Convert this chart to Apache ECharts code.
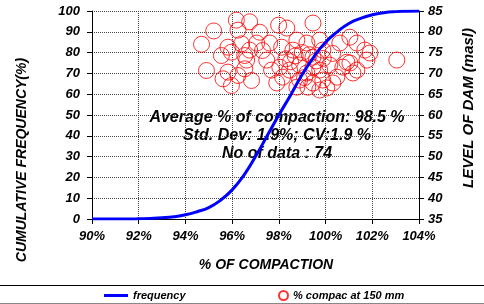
<!DOCTYPE html>
<html>
<head>
<meta charset="utf-8">
<script src="https://cdn.jsdelivr.net/npm/echarts@6/dist/echarts.min.js"></script>
<style>
	html, body { margin: 0; padding: 0; background: #fff; }
	#chart { width: 484px; height: 304px; }
</style>
</head>
<body>
<div id="chart"></div>
<script>
// cumulative frequency curve (every 0.5 %)
var freqX = [90, 90.5, 91, 91.5, 92, 92.5, 93, 93.5, 94, 94.5, 95, 95.5, 96, 96.5, 97, 97.5, 98, 98.5, 99, 99.5, 100, 100.5, 101, 101.5, 102, 102.5, 103, 103.5, 104];
var freqY = [0, 0, 0, 0, 0.1, 0.3, 0.6, 1.1, 2, 3.5, 5.5, 9, 14, 21, 30, 40, 50, 59.5, 69.5, 78, 85, 90, 94, 96.5, 98.2, 99.2, 99.7, 99.9, 100];

// % compaction vs level of dam (masl)
var compac = [94.69, 95.21, 94.90, 95.54, 95.61, 95.82, 95.97, 95.97, 95.82, 96.18, 96.25, 96.75, 96.40, 96.54, 96.25, 96.54, 96.83, 96.75,
	97.18, 97.99, 98.34, 99.46, 97.05, 97.61, 98.12, 98.60, 98.77, 99.20, 99.75, 99.88, 99.46, 100.61, 101.04, 101.34, 101.68, 101.90, 103.05,
	96.62, 97.48, 97.69, 98.04, 98.16, 97.91, 98.46, 98.89, 98.89, 99.20, 99.46, 99.46, 99.75, 99.88, 100.05, 100.18, 100.48, 100.74, 101.04,
	101.17, 101.34, 100.91, 98.77, 99.24, 99.75, 100.31, 101.77,
	98.3, 98.7, 99.0, 99.3, 99.6, 98.5, 99.1, 99.9, 97.3, 100.3];
var level = [77.0, 80.2, 70.7, 74.3, 68.7, 76.3, 75.1, 67.1, 70.3, 82.8, 80.4, 82.4, 77.1, 74.3, 69.5, 71.1, 68.3, 75.6,
	79.9, 81.6, 80.9, 82.1, 77.3, 77.3, 76.3, 75.6, 78.0, 77.3, 78.0, 75.6, 73.9, 77.3, 78.7, 77.3, 75.6, 74.9, 73.2,
	73.2, 73.2, 70.8, 71.5, 69.1, 67.7, 70.8, 72.0, 68.4, 70.1, 71.5, 67.7, 70.8, 68.4, 66.5, 72.0, 69.1, 71.5, 72.5,
	70.1, 70.8, 72.7, 66.7, 66.7, 66.0, 67.7, 73.2,
	73.5, 74.2, 75.0, 74.5, 73.0, 72.8, 69.0, 73.6, 75.5, 74.8];

var notes = ['Average % of compaction: 98.5 %', 'Std. Dev: 1.9%; CV:1.9 %', 'No of data : 74'];

var freqData = [];
for (var i = 0; i < freqX.length; i++) {
	freqData.push([freqX[i], freqY[i]]);
}
var scatterData = [];
for (var j = 0; j < compac.length; j++) {
	scatterData.push([compac[j], level[j]]);
}

var fam = 'Liberation Sans, Arial, sans-serif';
function f(size, extra) {
	var o = {
		fontFamily : fam,
		fontWeight : 'bold',
		fontStyle : 'italic',
		fill : '#000',
		color : '#000',
		fontSize : size
	};
	for (var e in extra || {}) o[e] = extra[e];
	return o;
}
var tickLabel = { margin : 12, fontSize : 13, fontFamily : fam, fontWeight : 'bold', fontStyle : 'italic', color : '#000' };

var chart = echarts.init(document.getElementById('chart'));
var option = {
	animation : false,
	backgroundColor : '#fff',
	grid : {
		left : 92,
		right : 65,
		top : 11,
		bottom : 85
	},
	legend : [ {
		left : 104,
		top : 290,
		padding : 0,
		itemWidth : 24,
		itemHeight : 3,
		icon : 'rect',
		data : [ 'frequency' ],
		textStyle : f(11)
	}, {
		left : 278,
		top : 290,
		padding : 0,
		itemWidth : 9,
		itemHeight : 9,
		icon : 'circle',
		data : [ '% compac at 150 mm' ],
		textStyle : f(11)
	} ],
	xAxis : {
		type : 'value',
		min : 90,
		max : 104,
		interval : 2,
		axisLine : { lineStyle : { color : '#000', width : 1 } },
		axisTick : { show : true, length : 5, lineStyle : { color : '#000' } },
		axisLabel : { formatter : '{value}%', margin : 11, fontSize : 13, fontFamily : fam, fontWeight : 'bold', fontStyle : 'italic', color : '#000' },
		splitLine : { show : true, lineStyle : { color : '#444', type : [ 1, 1 ] } }
	},
	yAxis : [ {
		type : 'value',
		min : 0,
		max : 100,
		interval : 10,
		axisLine : { show : true, lineStyle : { color : '#000' } },
		axisTick : { show : true, length : 5, lineStyle : { color : '#000' } },
		axisLabel : tickLabel,
		splitLine : { show : true, lineStyle : { color : '#444', type : [ 1, 1 ] } }
	}, {
		type : 'value',
		min : 35,
		max : 85,
		interval : 5,
		position : 'right',
		axisLine : { show : true, lineStyle : { color : '#000' } },
		axisTick : { show : true, length : 5, lineStyle : { color : '#000' } },
		axisLabel : { margin : 9, fontSize : 13, fontFamily : fam, fontWeight : 'bold', fontStyle : 'italic', color : '#000' },
		splitLine : { show : false }
	} ],
	graphic : [ {
		type : 'text',
		rotation : Math.PI / 2,
		x : 22,
		y : 160,
		style : f(14, { text : 'CUMULATIVE FREQUENCY(%)', align : 'center', verticalAlign : 'middle' })
	}, {
		type : 'text',
		rotation : Math.PI / 2,
		x : 469,
		y : 108,
		style : f(15, { text : 'LEVEL OF DAM (masl)', align : 'center', verticalAlign : 'middle' })
	}, {
		type : 'text',
		x : 266,
		y : 265,
		style : f(14, { text : '% OF COMPACTION', align : 'center', verticalAlign : 'middle' })
	}, {
		type : 'text',
		x : 277,
		y : 118,
		style : f(16, { text : notes[0], align : 'center', verticalAlign : 'middle' })
	}, {
		type : 'text',
		x : 277,
		y : 136,
		style : f(16, { text : notes[1], align : 'center', verticalAlign : 'middle' })
	}, {
		type : 'text',
		x : 277,
		y : 154,
		style : f(16, { text : notes[2], align : 'center', verticalAlign : 'middle' })
	}, {
		type : 'line',
		shape : { x1 : 0, y1 : 285.5, x2 : 484, y2 : 285.5 },
		style : { stroke : '#000', lineWidth : 1 }
	}, {
		type : 'line',
		shape : { x1 : 0, y1 : 303.5, x2 : 484, y2 : 303.5 },
		style : { stroke : '#888', lineWidth : 1 }
	} ],
	series : [ {
		name : 'frequency',
		type : 'line',
		smooth : true,
		symbol : 'none',
		yAxisIndex : 0,
		z : 3,
		lineStyle : { color : '#0000ff', width : 3 },
		itemStyle : { color : '#0000ff' },
		data : freqData
	}, {
		name : '% compac at 150 mm',
		type : 'scatter',
		yAxisIndex : 1,
		symbol : 'circle',
		symbolSize : 16,
		z : 2,
		itemStyle : { color : 'rgba(0,0,0,0)', borderColor : '#ff0000', borderWidth : 1 },
		data : scatterData
	} ]
};
chart.setOption(option);
window.addEventListener('resize', chart.resize);
</script>
</body>
</html>
